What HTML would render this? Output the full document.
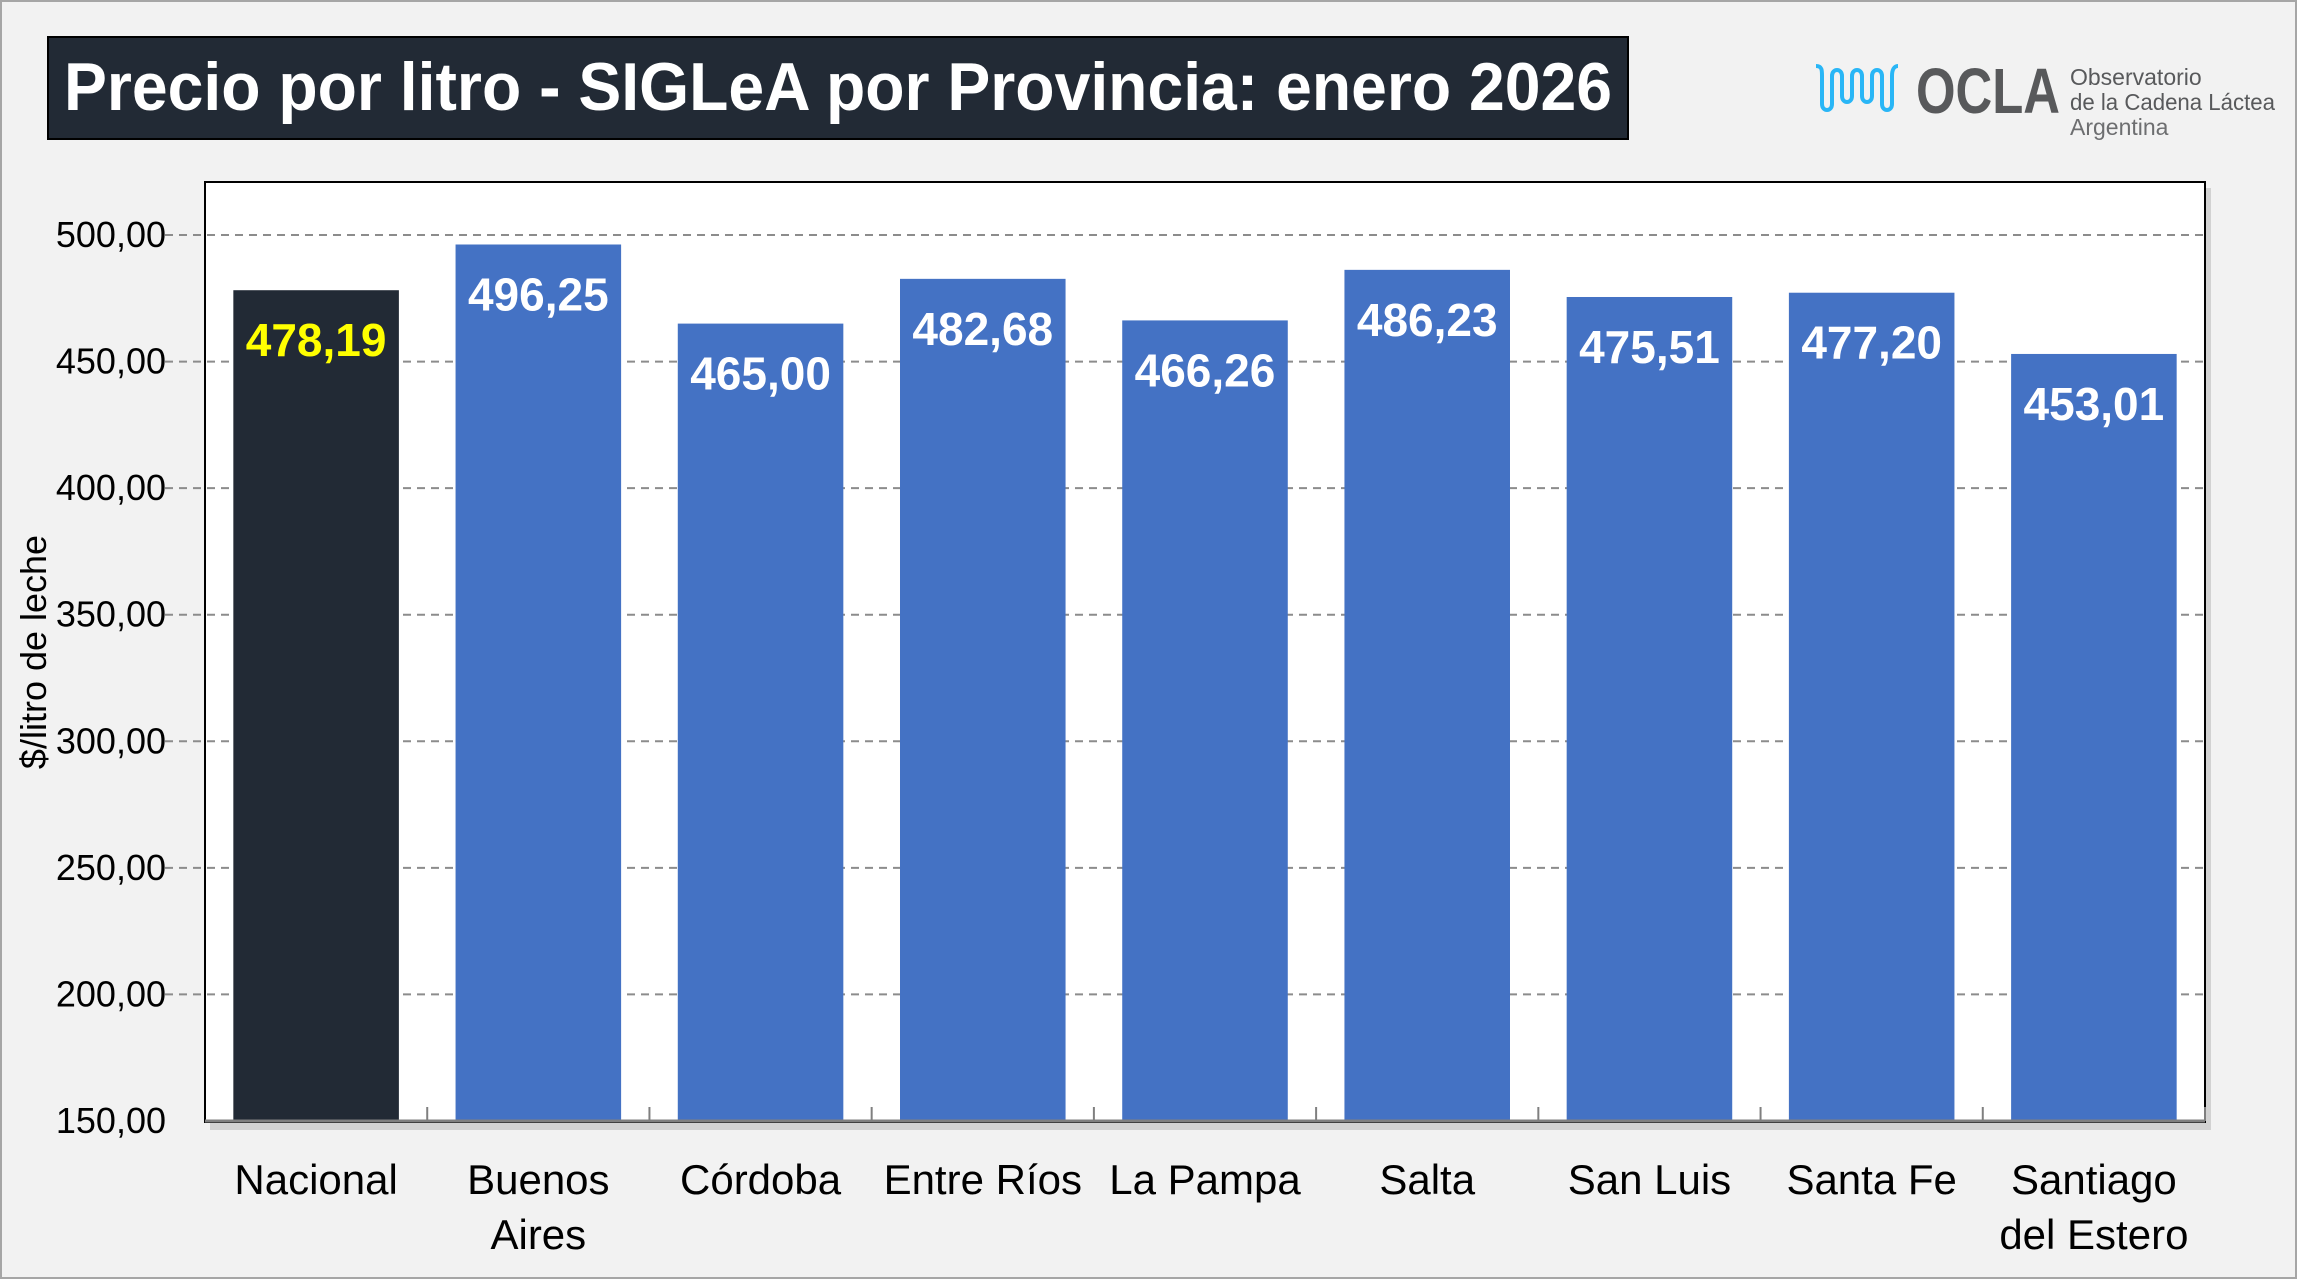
<!DOCTYPE html>
<html><head><meta charset="utf-8"><style>
html,body{margin:0;padding:0;background:#f2f2f2;}
svg{display:block;font-family:"Liberation Sans Narrow","Liberation Sans",sans-serif;}
</style></head><body>
<svg id="chart" width="2297" height="1279" viewBox="0 0 2297 1279" xmlns="http://www.w3.org/2000/svg">
<rect x="1" y="1" width="2295" height="1277" fill="#f2f2f2" stroke="#a6a6a6" stroke-width="2"/>
<rect x="48" y="37" width="1580" height="102" fill="#222a35" stroke="#000" stroke-width="2"/>
<text x="64" y="110" font-size="68" font-weight="bold" fill="#fff" textLength="1548" lengthAdjust="spacingAndGlyphs">Precio por litro - SIGLeA por Provincia: enero 2026</text>
<g>
<path d="M1816 66 c6 0 6 4 6 10 v28 c0 8 10 8 10 0 v-28 c0-8 10-8 10 0 v20 c0 8 10 8 10 0 v-20 c0-8 10-8 10 0 v20 c0 8 10 8 10 0 v-20 c0-8 10-8 10 0 v28 c0 8 10 8 10 0 v-28 c0-6 2-10 6-10" fill="none" stroke="#29b6f6" stroke-width="4"/>
<text x="1916" y="113" font-size="64" font-weight="bold" fill="#58595b" font-family="Liberation Sans,sans-serif" textLength="144" lengthAdjust="spacingAndGlyphs">OCLA</text>
<text x="2070" y="85" font-size="23" fill="#58595b" font-family="Liberation Sans,sans-serif">Observatorio</text>
<text x="2070" y="110" font-size="23" fill="#58595b" font-family="Liberation Sans,sans-serif" textLength="205" lengthAdjust="spacingAndGlyphs">de la Cadena Láctea</text>
<text x="2070" y="135" font-size="23" fill="#6d6e70" font-family="Liberation Sans,sans-serif">Argentina</text>
</g>
<rect x="210" y="188" width="2001" height="942" fill="#bdbdbd" opacity="0.6"/>
<rect x="205" y="182" width="2000" height="940" fill="#fff" stroke="#000" stroke-width="2"/>
<g id="grid"></g><g id="bars"></g><g id="labels"></g>
<text transform="translate(46,652) rotate(-90)" text-anchor="middle" font-size="36" fill="#000" font-family="Liberation Sans,sans-serif">$/litro de leche</text>
</svg>
<script>
const categories=[["Nacional"],["Buenos","Aires"],["Córdoba"],["Entre Ríos"],["La Pampa"],["Salta"],["San Luis"],["Santa Fe"],["Santiago","del Estero"]];
const values=[478.19,496.25,465.00,482.68,466.26,486.23,475.51,477.20,453.01];
const valueLabels=["478,19","496,25","465,00","482,68","466,26","486,23","475,51","477,20","453,01"];
const yTicks=[150,200,250,300,350,400,450,500];
const yTickLabels=["150,00","200,00","250,00","300,00","350,00","400,00","450,00","500,00"];
const NS="http://www.w3.org/2000/svg";
const PL=205,PR=2205,PB=1121,PT=235,YMIN=150,YMAX=500;
const y=v=>PB-(v-YMIN)/(YMAX-YMIN)*(PB-PT);
const bw=(PR-PL)/categories.length;
const x=i=>PL+bw*(i+0.5);
function mk(t,a,p){const e=document.createElementNS(NS,t);for(const k in a)e.setAttribute(k,a[k]);p.appendChild(e);return e;}
const grid=document.getElementById('grid'),bars=document.getElementById('bars'),labels=document.getElementById('labels');
yTicks.forEach((v,i)=>{
  if(v>YMIN){const l=mk('line',{x1:PL-40,x2:PR,y1:y(v),y2:y(v),stroke:'#8c8c8c','stroke-width':2,'stroke-dasharray':'8,6'},grid);
  
  }
  const t=mk('text',{x:166,y:y(v)+12,'text-anchor':'end','font-size':36,fill:'#000'},labels);
  t.textContent=yTickLabels[i];
  
  
});
const ax=mk('line',{x1:PL,x2:PR,y1:PB,y2:PB,stroke:'#7f7f7f','stroke-width':3},labels);


values.forEach((v,i)=>{
  const w=bw*0.745;
  const r=mk('rect',{x:x(i)-w/2,y:y(v),width:w,height:PB-y(v),fill:i===0?'#222a35':'#4472c4'},bars);
  
  
  const tk=mk('line',{x1:PL+bw*(i+1),x2:PL+bw*(i+1),y1:PB-14,y2:PB,stroke:'#7f7f7f','stroke-width':2},labels);
  
  
  const vl=mk('text',{x:x(i),y:y(v)+66,'text-anchor':'middle','font-size':46,'font-weight':'bold',fill:i===0?'#ffff00':'#fff'},labels);
  vl.textContent=valueLabels[i];
  
  
  categories[i].forEach((s,j)=>{
    const c=mk('text',{x:x(i),y:1194+j*55,'text-anchor':'middle','font-size':42,fill:'#000'},labels);
    c.textContent=s;
    
    
  });
});
</script>
</body></html>
